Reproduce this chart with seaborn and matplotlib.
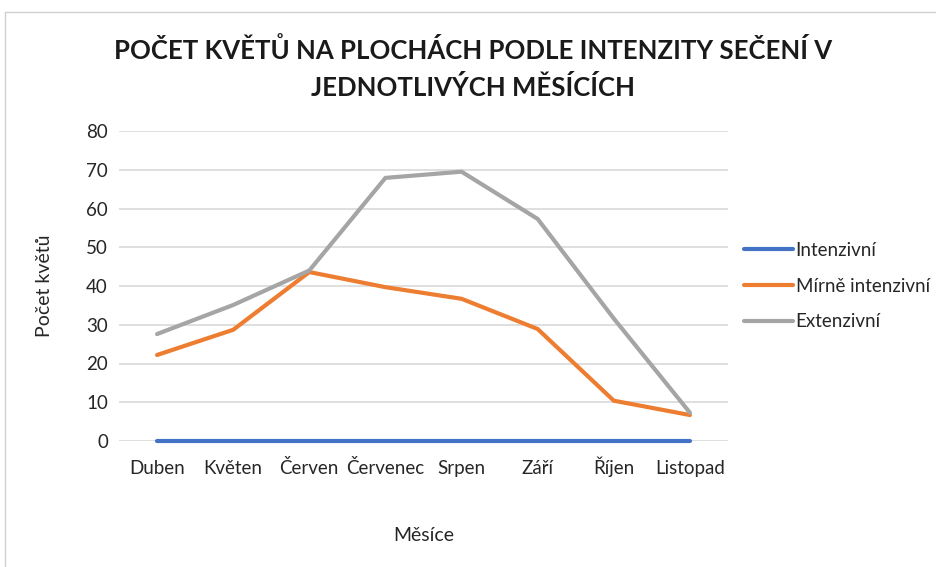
import matplotlib
matplotlib.use("Agg")
import matplotlib.pyplot as plt
import seaborn as sns
import pandas as pd

months = ["Duben", "Květen", "Červen", "Červenec", "Srpen", "Září", "Říjen", "Listopad"]
intenzivni = [0, 0, 0, 0, 0, 0, 0, 0]
mirne = [22.2, 28.7, 43.6, 39.7, 36.7, 28.9, 10.4, 6.7]
extenzivni = [27.6, 35.1, 44.0, 67.9, 69.5, 57.3, 31.6, 7.3]
series = ["Intenzivní", "Mírně intenzivní", "Extenzivní"]
colors = ["#4472C4", "#ED7D31", "#A5A5A5"]

rows = []
for name, vals in zip(series, [intenzivni, mirne, extenzivni]):
    for i, v in enumerate(vals):
        rows.append({"month": i, "value": v, "series": name})
df = pd.DataFrame(rows)

sns.set_style("white")
plt.rcParams['font.family'] = ['Lato', 'DejaVu Sans']

fig = plt.figure(figsize=(9.36, 5.67), dpi=100)
ax = fig.add_axes([119 / 936, 1 - 441 / 567, (728 - 119) / 936, (441 - 131) / 567])

sns.lineplot(data=df, x="month", y="value", hue="series", palette=colors,
             hue_order=series, linewidth=3, ax=ax, clip_on=False)

ax.set_xlim(-0.5, 7.5)
ax.set_ylim(0, 80)
ax.set_yticks(range(0, 81, 10))
ax.set_xticks(range(len(months)))
ax.set_xticklabels(months)
ax.yaxis.grid(True, color="#D9D9D9", linewidth=1.2)
ax.set_axisbelow(True)
for s in ax.spines.values():
    s.set_visible(False)
ax.tick_params(axis="both", length=0, labelsize=13.5, colors="#262626", pad=8)
ax.tick_params(axis="x", pad=24)
for lbl in ax.get_xticklabels():
    lbl.set_va("baseline")

ax.set_xlabel("Měsíce", fontsize=14, color="#262626", labelpad=36)
ax.set_ylabel("Počet květů", fontsize=14, color="#262626", labelpad=24)

leg = ax.legend(loc="center left", bbox_to_anchor=(1.014, 0.5), frameon=False,
                fontsize=13.5, handlelength=2.6, handletextpad=0.15, labelspacing=1.0,
                borderaxespad=0)
for t in leg.get_texts():
    t.set_color("#262626")

fig.text(0.505, 1 - 50 / 567, "POČET KVĚTŮ NA PLOCHÁCH PODLE INTENZITY SEČENÍ V",
         ha="center", va="center", fontsize=18.5, fontweight="bold", color="#1a1a1a")
fig.text(0.505, 1 - 88 / 567, "JEDNOTLIVÝCH MĚSÍCÍCH",
         ha="center", va="center", fontsize=18.5, fontweight="bold", color="#1a1a1a")

# chart frame
fig.add_artist(plt.Line2D([5 / 936, 5 / 936], [0, 1 - 12 / 567], color="#D0D0D0", lw=1))
fig.add_artist(plt.Line2D([5 / 936, 1], [1 - 12 / 567, 1 - 12 / 567], color="#D0D0D0", lw=1))

fig.savefig("out.png", dpi=100)
